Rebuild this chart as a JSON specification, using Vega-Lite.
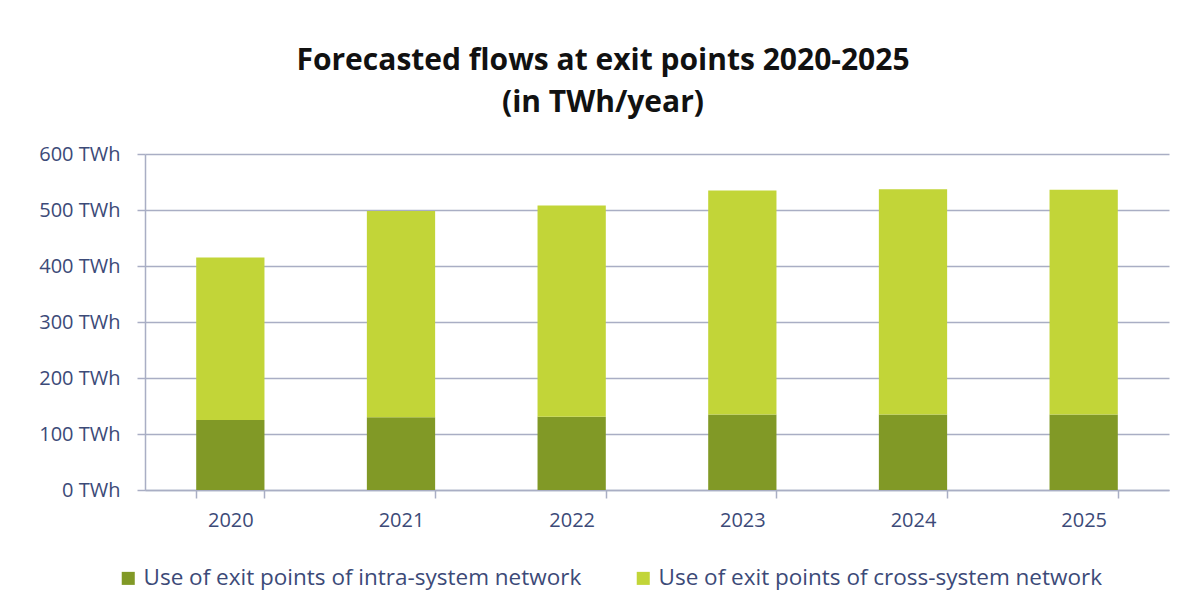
{
  "$schema": "https://vega.github.io/schema/vega-lite/v6.json",
  "width": 1024,
  "height": 336,
  "autosize": {"type": "none"},
  "padding": {"left": 145, "top": 154, "right": 18, "bottom": 120},
  "background": "white",
  "title": {
    "text": ["Forecasted flows at exit points 2020-2025", "(in TWh/year)"],
    "font": "Open Sans",
    "fontSize": 30,
    "fontWeight": "bold",
    "color": "#111111",
    "anchor": "middle",
    "dx": -54,
    "lineHeight": 42,
    "offset": 26
  },
  "data": {
    "values": [
      {"year": "2020", "series": "Use of exit points of intra-system network", "order": 1, "twh": 125},
      {"year": "2020", "series": "Use of exit points of cross-system network", "order": 2, "twh": 290},
      {"year": "2021", "series": "Use of exit points of intra-system network", "order": 1, "twh": 130},
      {"year": "2021", "series": "Use of exit points of cross-system network", "order": 2, "twh": 368},
      {"year": "2022", "series": "Use of exit points of intra-system network", "order": 1, "twh": 131},
      {"year": "2022", "series": "Use of exit points of cross-system network", "order": 2, "twh": 377},
      {"year": "2023", "series": "Use of exit points of intra-system network", "order": 1, "twh": 135},
      {"year": "2023", "series": "Use of exit points of cross-system network", "order": 2, "twh": 400},
      {"year": "2024", "series": "Use of exit points of intra-system network", "order": 1, "twh": 135},
      {"year": "2024", "series": "Use of exit points of cross-system network", "order": 2, "twh": 402},
      {"year": "2025", "series": "Use of exit points of intra-system network", "order": 1, "twh": 135},
      {"year": "2025", "series": "Use of exit points of cross-system network", "order": 2, "twh": 401}
    ]
  },
  "mark": {"type": "bar"},
  "encoding": {
    "x": {
      "field": "year",
      "type": "nominal",
      "scale": {"paddingInner": 0.6, "paddingOuter": 0.3},
      "axis": {
        "title": null,
        "labelAngle": 0,
        "labelFont": "Open Sans",
        "labelFontSize": 20,
        "labelColor": "#3c4a78",
        "labelPadding": 12,
        "tickBand": "extent",
        "tickSize": 8,
        "tickColor": "#a9aec4",
        "domainColor": "#a9aec4",
        "domainWidth": 1.5,
        "tickWidth": 1.5,
        "grid": false
      }
    },
    "y": {
      "field": "twh",
      "type": "quantitative",
      "stack": "zero",
      "scale": {"domain": [0, 600], "nice": false},
      "axis": {
        "title": null,
        "values": [0, 100, 200, 300, 400, 500, 600],
        "labelExpr": "datum.value + ' TWh'",
        "labelFont": "Open Sans",
        "labelFontSize": 20,
        "labelColor": "#3c4a78",
        "labelPadding": 17,
        "tickSize": 8,
        "tickColor": "#a9aec4",
        "tickWidth": 1.5,
        "domainColor": "#a9aec4",
        "domainWidth": 1.5,
        "grid": true,
        "gridColor": "#a9aec4",
        "gridWidth": 1.5
      }
    },
    "color": {
      "field": "series",
      "type": "nominal",
      "scale": {
        "domain": ["Use of exit points of intra-system network", "Use of exit points of cross-system network"],
        "range": ["#819926", "#c2d538"]
      },
      "legend": {
        "title": null,
        "orient": "none",
        "direction": "horizontal",
        "legendX": -28,
        "legendY": 413,
        "symbolType": "square",
        "symbolSize": 170,
        "symbolStrokeWidth": 0,
        "labelFont": "Open Sans",
        "labelFontSize": 22.5,
        "labelColor": "#3c4a78",
        "labelOffset": 4,
        "columnPadding": 50,
        "labelLimit": 700
      }
    },
    "order": {"field": "order", "type": "quantitative"}
  },
  "config": {
    "view": {"stroke": null}
  }
}
